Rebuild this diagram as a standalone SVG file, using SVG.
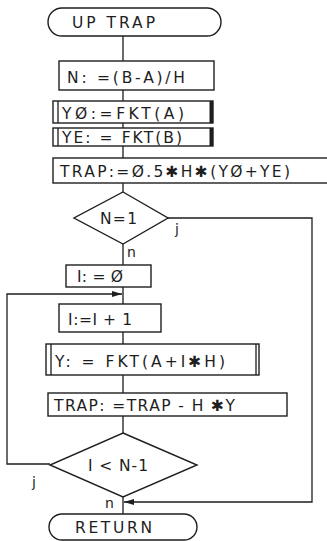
<svg xmlns="http://www.w3.org/2000/svg" width="327" height="541" viewBox="0 0 327 541">
<style>
.s{fill:#fff;stroke:#1e1e1e;stroke-width:1.4}
.l{fill:none;stroke:#1e1e1e;stroke-width:1.3}
.t{font-family:"DejaVu Sans","Liberation Sans",sans-serif;font-size:15.5px;fill:#1e1e1e}
.lb{font-family:"DejaVu Sans","Liberation Sans",sans-serif;font-size:14px;fill:#1e1e1e}
</style>
<defs>
<marker id="ah" markerWidth="10" markerHeight="6" refX="10" refY="3" orient="auto" markerUnits="userSpaceOnUse">
<path d="M0,0 L10,3 L0,6 Z" fill="#1e1e1e"/>
</marker>
</defs>
<rect width="327" height="541" fill="#fff"/>
<g id="connectors">
<path class="l" d="M123,36V61M123,90V101M123,123V128M123,146V158M123,183V192M123,244V265M123,287V304M123,332V344M123,375V393M123,416V433M123,497V514"/>
<path class="l" d="M168,218H312V502H124" marker-end="url(#ah)"/>
<path class="l" d="M50,464H7V294H122" marker-end="url(#ah)"/>
<text class="lb" x="175" y="234">j</text>
<text class="lb" x="127" y="257">n</text>
<text class="lb" x="32" y="487">j</text>
<text class="lb" x="105" y="508">n</text>
</g>
<g id="start">
<rect class="s" x="48" y="8" width="173" height="28" rx="14"/>
<text class="t" x="72" y="28" textLength="83" lengthAdjust="spacing">UP  TRAP</text>
</g>
<g id="n_assign">
<rect class="s" x="59" y="61" width="155" height="29"/>
<text class="t" x="67" y="83" textLength="118" lengthAdjust="spacing">N: =(B-A)/H</text>
</g>
<g id="y0">
<rect class="s" x="53" y="101" width="160" height="22"/>
<path class="l" d="M58,101V123"/>
<rect x="209.5" y="101" width="3.5" height="22" fill="#1e1e1e"/>
<text class="t" x="62" y="119" textLength="122" lengthAdjust="spacing">YØ:=FKT(A)</text>
</g>
<g id="ye">
<rect class="s" x="53" y="128" width="160" height="18"/>
<path class="l" d="M58,128V146"/>
<rect x="209.5" y="128" width="3.5" height="18" fill="#1e1e1e"/>
<text class="t" x="62" y="143" textLength="120" lengthAdjust="spacing">YE: = FKT(B)</text>
</g>
<g id="trap_init">
<rect class="s" x="53" y="158" width="280" height="25"/>
<text class="t" x="60" y="177" textLength="230" lengthAdjust="spacing">TRAP:=Ø.5✱H✱(YØ+YE)</text>
</g>
<g id="dec1">
<polygon class="s" points="123,192 168,218 123,244 74,218"/>
<text class="t" x="100" y="224" textLength="37" lengthAdjust="spacing">N=1</text>
</g>
<g id="i_init">
<rect class="s" x="66" y="265" width="85" height="22"/>
<text class="t" x="77" y="282" textLength="46" lengthAdjust="spacing">I: = Ø</text>
</g>
<g id="i_inc">
<rect class="s" x="59" y="304" width="102" height="28"/>
<text class="t" x="68" y="325" textLength="64" lengthAdjust="spacing">I:=I + 1</text>
</g>
<g id="y_calc">
<rect class="s" x="46" y="344" width="213" height="31"/>
<path class="l" d="M51,344V375M256,344V375"/>
<text class="t" x="55" y="367" textLength="170" lengthAdjust="spacing">Y: = FKT(A+I✱H)</text>
</g>
<g id="trap_update">
<rect class="s" x="48" y="393" width="239" height="23"/>
<text class="t" x="54" y="411" textLength="181" lengthAdjust="spacing">TRAP: =TRAP - H ✱Y</text>
</g>
<g id="dec2">
<polygon class="s" points="123,433 197,465 123,497 50,465"/>
<text class="t" x="88" y="471" textLength="60" lengthAdjust="spacing">I &lt; N-1</text>
</g>
<g id="end">
<rect class="s" x="49" y="514" width="148" height="26" rx="13"/>
<text class="t" x="75" y="533" textLength="77" lengthAdjust="spacing">RETURN</text>
</g>
</svg>
